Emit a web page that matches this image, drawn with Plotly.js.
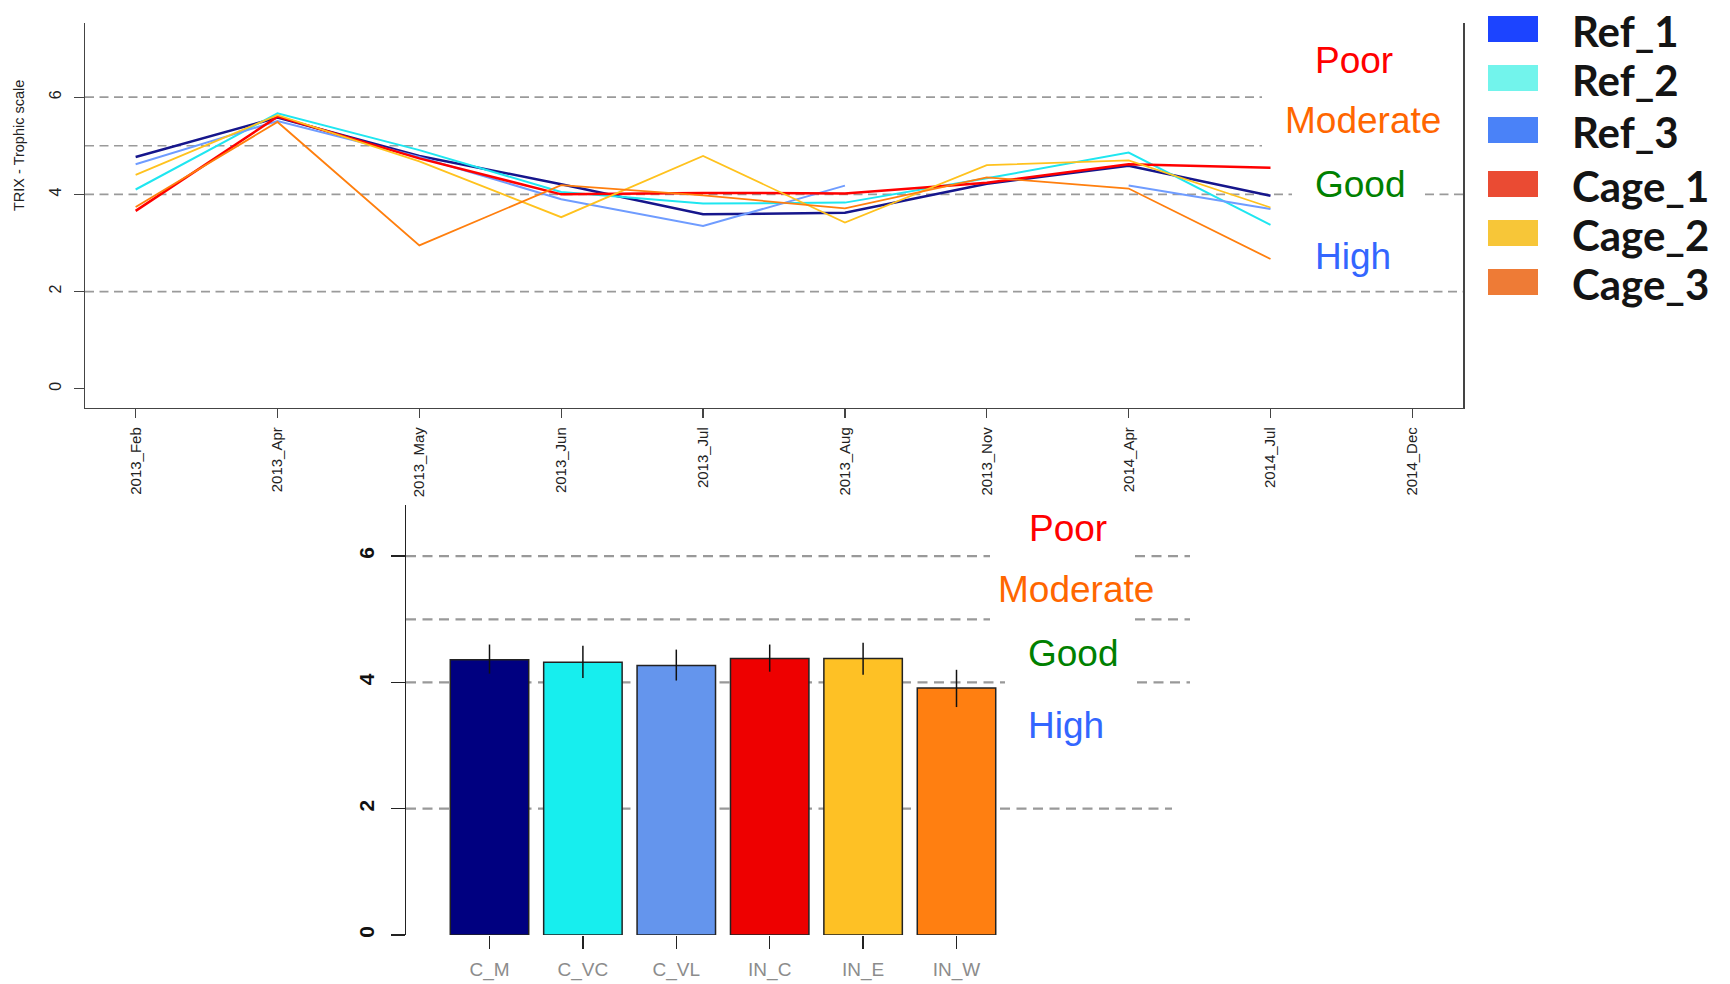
<!DOCTYPE html>
<html>
<head>
<meta charset="utf-8">
<script src="https://cdn.plot.ly/plotly-3.0.1.min.js"></script>
<style>
html,body{margin:0;padding:0;background:#fff;}
#chart{width:1730px;height:984px;}
</style>
</head>
<body>
<div id="chart"></div>
<script>
// ---------- data ----------
const months = ["2013_Feb","2013_Apr","2013_May","2013_Jun","2013_Jul","2013_Aug","2013_Nov","2014_Apr","2014_Jul","2014_Dec"];
const ref1  = [4.77,5.58,4.79,4.21,3.59,3.62,4.22,4.59,3.97,null];
const ref2  = [4.10,5.67,4.91,4.05,3.81,3.83,4.33,4.86,3.37,null];
const ref3  = [4.62,5.51,4.77,3.90,3.35,4.18,null,4.18,3.70,null];
const cage1 = [3.66,5.60,4.74,4.00,4.03,4.02,4.24,4.62,4.55,null];
const cage2 = [4.40,5.63,4.68,3.53,4.79,3.42,4.60,4.70,3.73,null];
const cage3 = [3.74,5.49,2.95,4.19,3.98,3.71,4.35,4.12,2.67,null];

const seriesNames  = ["Ref_1","Ref_2","Ref_3","Cage_1","Cage_2","Cage_3"];
const seriesValues = [ref1, ref2, ref3, cage1, cage2, cage3];
const lineColors   = ["#16168c","#1fe6f0","#6f9cff","#ff0000","#ffc21e","#ff7f0e"];
const lineWidths   = [2.5, 2, 2, 2.5, 1.8, 1.8];

const legendColors = ["#1c44ff","#72f4ec","#4a82f8","#ea4b33","#f7c638","#ee7b36"];

const sites     = ["C_M","C_VC","C_VL","IN_C","IN_E","IN_W"];
const siteMeans = [4.36,4.32,4.27,4.38,4.38,3.91];
const errPlus   = [0.24,0.26,0.25,0.22,0.25,0.29];
const errMinus  = [0.22,0.25,0.24,0.21,0.26,0.30];
const barColors = ["#000080","#17eeee","#6495ed","#ee0000","#fec125","#ff7f11"];

const thresholds   = [6,5,4,2];
const classNames   = ["Poor","Moderate","Good","High"];
const classColors  = ["#ff0000","#ff6600","#008000","#3366ff"];
const yTicks       = [0,2,4,6];

// ---------- layout helpers (pixel -> paper) ----------
const W = 1730, H = 984;
const px = x => x / W;
const py = y => 1 - y / H;
const FONT = "Liberation Sans, Arial, sans-serif";

// ---------- traces ----------
const traces = seriesNames.map((n, i) => ({
  type: "scatter", mode: "lines", name: n,
  x: months, y: seriesValues[i],
  xaxis: "x", yaxis: "y",
  line: {color: lineColors[i], width: lineWidths[i]},
  connectgaps: false, showlegend: false, hoverinfo: "x+y+name"
}));

traces.push({
  type: "bar", x: sites, y: siteMeans, xaxis: "x2", yaxis: "y2",
  marker: {color: barColors, line: {color: "#222", width: 1.5}},
  error_y: {type: "data", symmetric: false, array: errPlus, arrayminus: errMinus,
            width: 0, thickness: 1.5, color: "#111"},
  showlegend: false
});

// ---------- shapes: threshold dashed lines (white boxes interrupt them) ----------
const shapes = [];
const topSegs = {6: [[85,1262]], 5: [[85,1262]], 4: [[85,1292],[1425,1463]], 2: [[85,1463]]};
const botSegs = {6: [[406,990],[1135,1190]], 5: [[406,990],[1135,1190]], 4: [[406,1005],[1137,1190]], 2: [[406,1172]]};
thresholds.forEach(t => {
  topSegs[t].forEach(s => shapes.push({type: "line", xref: "paper", yref: "y", x0: px(s[0]), x1: px(s[1]), y0: t, y1: t,
    line: {color: "#9a9a9a", width: 1.7, dash: "9px,5.5px"}, layer: "below"}));
  botSegs[t].forEach(s => shapes.push({type: "line", xref: "paper", yref: "y2", x0: px(s[0]), x1: px(s[1]), y0: t, y1: t,
    line: {color: "#999999", width: 2.3, dash: "10px,6.5px"}, layer: "below"}));
});

// legend swatches
const legRowY = [29, 78, 130, 184, 233, 282];
seriesNames.forEach((n, i) => {
  shapes.push({type: "rect", xref: "paper", yref: "paper",
    x0: px(1488), x1: px(1538), y0: py(legRowY[i] + 13), y1: py(legRowY[i] - 13),
    fillcolor: legendColors[i], line: {width: 0}});
});

// ---------- annotations ----------
const annotations = [];
annotations.push({xref: "paper", yref: "paper", x: px(19), y: py(146), text: "TRIX - Trophic scale",
  textangle: -90, showarrow: false, font: {family: FONT, size: 14.5, color: "#222"}, xanchor: "center", yanchor: "middle"});

const topLab = [[1313, 60], [1283, 121], [1313, 185], [1313, 256.5]];
const botLab = [[1026.7, 528], [995.7, 589], [1026, 653.5], [1026, 725]];
classNames.forEach((c, i) => {
  annotations.push({xref: "paper", yref: "paper", x: px(topLab[i][0]), y: py(topLab[i][1]), text: c,
    showarrow: false, xanchor: "left", yanchor: "middle", font: {family: FONT, size: 37, color: classColors[i]}});
  annotations.push({xref: "paper", yref: "paper", x: px(botLab[i][0]), y: py(botLab[i][1]), text: c,
    showarrow: false, xanchor: "left", yanchor: "middle", font: {family: FONT, size: 37, color: classColors[i]}});
});

seriesNames.forEach((n, i) => {
  annotations.push({xref: "paper", yref: "paper", x: px(1570), y: py(legRowY[i] + 2), text: n,
    showarrow: false, xanchor: "left", yanchor: "middle",
    font: {family: "Lato, Open Sans, sans-serif", size: 42, color: "#141414", weight: 700}});
});

// ---------- layout ----------
const layout = {
  width: W, height: H, autosize: false,
  margin: {l: 0, r: 0, t: 0, b: 0},
  paper_bgcolor: "#ffffff", plot_bgcolor: "rgba(0,0,0,0)",
  showlegend: false, bargap: 0.16,
  font: {family: FONT},
  xaxis: {
    domain: [px(85), px(1463)], anchor: "y", type: "category", categoryarray: months,
    range: [-0.357, 9.357], showline: true, linecolor: "#444", linewidth: 1.5,
    ticks: "outside", ticklen: 9, tickwidth: 1.2, tickcolor: "#444",
    tickangle: -90, tickfont: {family: FONT, size: 15, color: "#222"},
    showgrid: false, zeroline: false, ticklabelstandoff: 3
  },
  yaxis: {
    domain: [py(407.7), py(23.3)], anchor: "x", range: [-0.39, 7.52],
    tickvals: yTicks, ticktext: yTicks.map(String),
    showline: true, mirror: true, linecolor: "#444", linewidth: 1.5,
    ticks: "outside", ticklen: 10, tickwidth: 1.2, tickcolor: "#444",
    tickangle: -90, tickfont: {family: FONT, size: 16, color: "#222"},
    showgrid: false, zeroline: false, ticklabelstandoff: 6
  },
  xaxis2: {
    domain: [px(406), px(1190)], anchor: "y2", type: "category", categoryarray: sites,
    range: [-0.894, 7.5], showline: false,
    ticks: "outside", ticklen: 13, tickwidth: 1.5, tickcolor: "#222",
    tickfont: {family: FONT, size: 19, color: "#8c8c8c"},
    showgrid: false, zeroline: false, ticklabelstandoff: 4
  },
  yaxis2: {
    domain: [py(935), py(505)], anchor: "x2", range: [0, 6.81],
    tickvals: yTicks, ticktext: yTicks.map(String),
    showline: true, linecolor: "#222", linewidth: 1.5,
    ticks: "outside", ticklen: 14, tickwidth: 1.5, tickcolor: "#222",
    tickangle: -90, tickfont: {family: FONT, size: 21, color: "#111", weight: 700},
    showgrid: false, zeroline: false, ticklabelstandoff: 8
  },
  shapes: shapes,
  annotations: annotations
};

Plotly.newPlot("chart", traces, layout, {staticPlot: true, displayModeBar: false});
</script>
</body>
</html>
